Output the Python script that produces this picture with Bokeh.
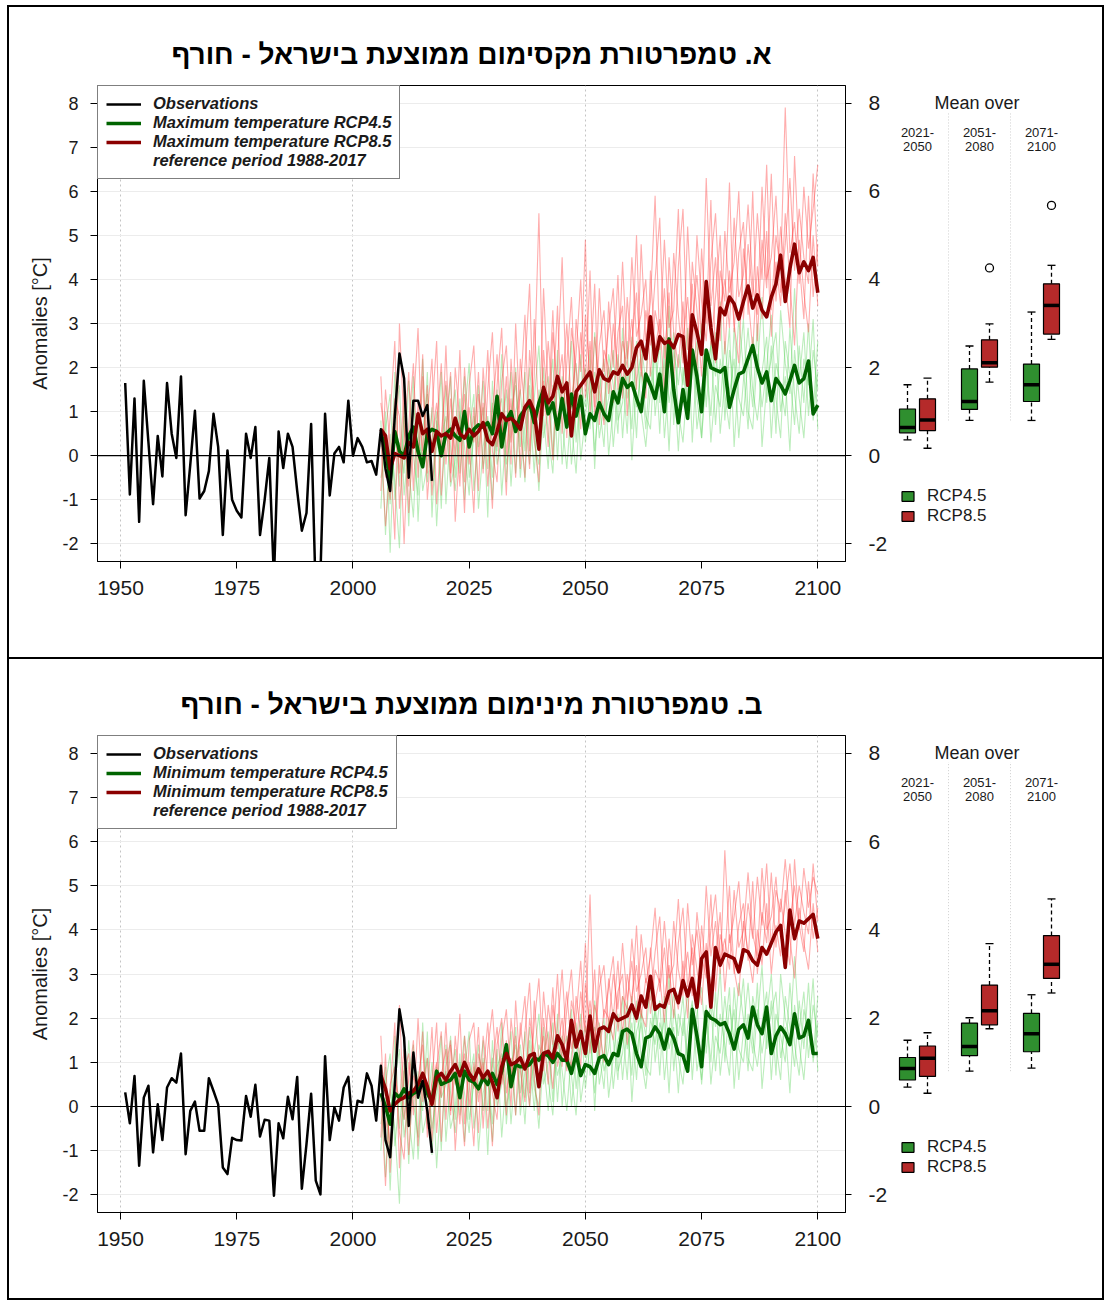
from bokeh.plotting import figure
from bokeh.models import Range1d, LinearAxis, FixedTicker, Span, Legend, LegendItem, Spacer
from bokeh.layouts import row, column
from bokeh.embed import file_html
from bokeh.resources import INLINE
from bokeh.core.properties import value

FONT = "Liberation Sans"

# ---------------- data ----------------
obs_years = list(range(1951, 2018))
proj_years = list(range(2006, 2101))

obs_tmax = [1.65, -0.88, 1.3, -1.5, 1.7, 0.3, -1.1, 0.45, -0.47, 1.65,
            0.5, -0.05, 1.8, -1.35, -0.2, 1.02, -0.97, -0.8, -0.35, 0.95,
            0.2, -1.8, 0.12, -1.0, -1.25, -1.4, 0.5, -0.05, 0.65, -1.8,
            -1.0, -0.05, -2.8, 0.55, -0.28, 0.5, 0.2, -0.8, -1.7, -1.3,
            0.72, -3.2, -2.7, 0.95, -0.9, 0.05, 0.2, -0.15, 1.25, 0.0,
            0.4, 0.2, -0.15, -0.12, -0.43, 0.6, -0.3, -0.8, 0.9, 2.32,
            1.75, -0.5, 1.25, 1.25, 0.9, 1.15, -0.57]

obs_tmin = [0.32, -0.38, 0.69, -1.34, 0.2, 0.47, -1.04, 0.05, -0.76, 0.43,
            0.64, 0.54, 1.2, -1.08, -0.1, 0.11, -0.55, -0.55, 0.64, 0.35,
            0.05, -1.38, -1.53, -0.71, -0.76, -0.77, 0.24, -0.23, 0.49, -0.68,
            -0.3, -0.32, -2.02, -0.38, -0.72, 0.22, -0.29, 0.67, -1.86, -0.85,
            0.29, -1.68, -1.99, 1.14, -0.76, -0.02, -0.32, 0.43, 0.67, -0.53,
            0.13, 0.09, 0.75, 0.47, -0.32, 0.92, -0.76, -1.15, 0.5, 2.2,
            1.56, -0.44, 1.22, 0.2, 0.58, -0.1, -1.05]

tmax_rcp85_mean = [0.6, 0.45, -0.3, 0.05, 0.0, -0.05, 0.3, 0.2, 0.95, 0.5,
                   0.6, 0.1, 0.55, 0.45, 0.5, 0.4, 0.85, 0.5, 0.4, 0.6,
                   0.45, 0.55, 0.75, 0.35, 0.25, 0.55, 0.95, 0.8, 0.85, 0.75,
                   0.6, 1.1, 1.25, 1.0, 0.15, 1.55, 1.2, 1.35, 1.8, 1.45,
                   1.65, 0.45, 1.45, 1.6, 1.75, 1.9, 1.45, 1.95, 1.75, 1.7,
                   1.9, 1.85, 2.05, 1.85, 2.0, 2.45, 2.6, 2.2, 3.15, 2.15,
                   2.7, 2.55, 2.6, 2.45, 2.75, 2.7, 1.6, 3.2, 2.8, 2.3,
                   3.95, 2.9, 2.2, 3.35, 3.2, 3.6, 3.45, 3.1, 3.5, 3.85,
                   3.35, 3.65, 3.3, 3.15, 3.6, 3.9, 4.55, 3.5, 4.25, 4.8,
                   4.15, 4.4, 4.2, 4.5, 3.7]

tmax_rcp45_mean = [0.5, 0.2, -0.6, 0.55, 0.1, 0.0, 0.45, 0.65, 0.1, -0.25,
                   0.5, 0.6, 0.55, 0.0, 0.5, 0.6, 0.45, 0.35, 1.0, 0.2,
                   0.6, 0.7, 0.65, 0.75, 0.5, 1.35, 0.2, 0.8, 1.0, 0.55,
                   0.9, 1.05, 1.2, 0.75, 1.2, 1.5, 0.95, 1.2, 0.6, 1.3,
                   0.65, 1.4, 0.9, 1.35, 0.5, 0.95, 0.8, 1.2, 0.95, 0.8,
                   1.45, 1.2, 1.75, 1.55, 1.65, 1.3, 1.0, 1.85, 1.6, 1.3,
                   1.85, 1.0, 2.65, 1.5, 0.75, 1.5, 0.85, 2.4, 1.8, 1.0,
                   2.4, 2.0, 1.95, 1.9, 2.0, 1.1, 1.5, 1.85, 1.9, 2.2,
                   2.5, 2.0, 1.65, 1.9, 1.25, 1.75, 1.6, 1.4, 1.7, 2.05,
                   1.65, 1.75, 2.15, 0.95, 1.15]

tmin_rcp85_mean = [0.7, 0.4, -0.1, 0.05, 0.15, 0.2, 0.3, 0.35, 0.5, 0.75,
                   0.45, 0.05, 0.65, 0.75, 0.6, 0.8, 0.95, 0.7, 1.0, 0.75,
                   0.6, 0.85, 0.65, 0.8, 0.55, 0.2, 0.9, 1.2, 0.95, 1.0,
                   1.1, 0.85, 1.15, 1.2, 0.45, 1.2, 1.25, 1.1, 1.6, 1.4,
                   1.05, 1.95, 1.35, 1.7, 1.2, 2.05, 1.25, 1.75, 1.8, 1.7,
                   2.1, 1.95, 2.0, 2.05, 2.3, 2.0, 2.5, 2.25, 2.95, 2.2,
                   2.3, 2.25, 2.6, 2.65, 2.35, 2.85, 2.5, 2.9, 2.25, 3.35,
                   3.5, 2.25, 3.6, 3.2, 3.45, 3.4, 3.35, 3.05, 3.55, 3.5,
                   3.3, 3.2, 3.6, 3.45, 3.7, 3.95, 4.1, 3.15, 4.45, 3.8,
                   4.2, 4.15, 4.25, 4.35, 3.8]

tmin_rcp45_mean = [0.3, 0.0, -0.4, 0.3, 0.2, 0.4, 0.2, 0.3, 0.35, 0.55,
                   0.3, 0.1, 0.8, 0.5, 0.55, 0.6, 0.75, 0.2, 0.8, 0.6,
                   0.55, 0.4, 0.65, 0.5, 0.75, 0.5, 0.8, 1.4, 0.45, 0.95,
                   0.9, 0.9, 0.95, 1.1, 1.05, 1.2, 1.15, 1.0, 1.2, 1.05,
                   1.05, 0.75, 1.2, 0.7, 0.95, 0.9, 0.75, 1.1, 1.15, 0.95,
                   1.2, 1.15, 1.7, 1.75, 1.65, 1.2, 0.9, 1.55, 1.6, 1.8,
                   1.65, 1.3, 1.75, 1.55, 1.2, 1.15, 0.8, 2.2, 1.6, 0.9,
                   2.15, 2.0, 1.95, 1.85, 1.9, 1.65, 1.3, 1.75, 1.85, 1.55,
                   2.25, 1.85, 1.65, 2.25, 1.2, 1.6, 1.8, 1.65, 1.4, 2.1,
                   1.55, 1.6, 1.95, 1.2, 1.2]

# individual model runs (estimated)
tmax_rcp85_m1 = [1.8, -0.5, 0.9, 2.6, -1.2, 0.4, 1.9, -0.8, 1.2, 0.1,
                 1.6, -0.9, 0.7, 2.1, -0.2, 1.3, 0.0, 2.4, -0.6, 1.1,
                 0.3, 1.9, -0.4, 1.5, 2.8, 0.2, 1.0, -0.9, 2.2, 0.6,
                 1.4, 3.2, 0.1, 1.8, 5.5, 0.9, 2.6, 1.2, 3.4, 0.5,
                 2.1, 3.6, 1.0, 2.8, 1.6, 4.2, 0.8, 2.5, 3.3, 1.4,
                 3.0, 1.9, 4.4, 2.2, 3.1, 1.5, 4.8, 2.6, 3.5, 5.9,
                 2.4, 3.8, 2.0, 4.6, 3.2, 2.1, 5.2, 3.0, 4.1, 2.7,
                 6.3, 3.4, 4.5, 2.6, 5.1, 3.7, 4.4, 6.0, 3.1, 4.8,
                 3.6, 5.5, 4.0, 6.6, 3.3, 5.0, 4.2, 7.9, 4.6, 5.3,
                 3.9, 6.1, 4.7, 5.6, 6.6]
tmax_rcp85_m2 = [-0.8, 1.5, 0.2, -1.9, 3.0, 0.6, -0.7, 1.1, 2.9, -0.3,
                 0.9, 2.2, -1.1, 0.5, 1.7, -0.6, 2.0, 0.8, -1.3, 1.6,
                 2.5, 0.0, 1.2, -0.7, 1.0, 2.3, 0.4, 1.8, -0.2, 3.0,
                 0.7, -0.5, 2.4, 1.1, 0.3, 3.8, 1.5, -0.1, 2.0, 4.5,
                 1.2, 0.6, 3.1, 1.9, 4.9, 0.9, 2.7, 1.6, 0.7, 3.5,
                 2.0, 4.1, 1.3, 3.6, 2.2, 5.0, 1.8, 3.3, 2.5, 4.0,
                 5.4, 2.2, 3.7, 1.6, 4.3, 5.6, 2.4, 3.9, 1.9, 4.7,
                 3.0, 5.8, 2.1, 4.2, 3.5, 6.2, 2.8, 4.6, 5.3, 3.2,
                 6.0, 2.6, 4.9, 3.8, 6.4, 3.5, 5.2, 4.0, 2.9, 6.8,
                 4.4, 3.1, 5.9, 3.6, 4.8]
tmax_rcp85_m3 = [0.4, -1.6, -0.2, 1.3, 0.9, -2.0, 0.7, 2.1, -0.5, 1.8,
                 -0.4, 1.0, 2.6, -0.9, 0.6, 1.9, -1.5, 0.3, 1.4, -0.2,
                 1.1, -0.8, 2.0, 0.5, -1.2, 1.6, 2.9, 0.0, 1.3, -0.5,
                 2.2, 1.0, -0.3, 3.1, 0.8, 1.7, 0.2, 2.8, 1.5, 2.3,
                 0.4, 2.9, 2.0, 0.6, 3.2, 1.8, 3.9, 0.7, 2.4, 2.0,
                 1.2, 2.8, 3.4, 0.9, 2.6, 3.7, 2.0, 1.3, 4.2, 2.4,
                 3.1, 1.4, 4.5, 2.8, 2.0, 3.5, 1.7, 4.4, 3.3, 1.8,
                 4.0, 2.5, 3.6, 5.0, 2.3, 4.2, 3.0, 2.1, 4.7, 3.6,
                 2.4, 4.3, 3.1, 5.1, 2.7, 4.4, 3.4, 5.5, 3.9, 2.5,
                 4.9, 3.7, 2.8, 5.0, 3.4]
tmax_rcp85_m4 = [1.2, 0.3, -1.0, 0.8, -0.4, 1.5, -1.3, 0.5, 0.0, 2.3,
                 -1.0, 0.4, 1.2, 0.0, 2.5, -0.4, 0.9, -0.7, 2.0, 0.3,
                 -1.3, 1.4, 0.6, 2.4, 0.1, -0.6, 1.7, 2.5, 0.3, 1.9,
                 -0.3, 2.0, 3.9, 0.4, -0.6, 2.4, 1.0, 3.3, 0.6, 1.4,
                 3.0, 1.1, 2.3, 4.0, 1.3, 2.6, 1.1, 3.8, 1.9, 2.9,
                 3.8, 1.5, 2.6, 2.0, 4.5, 2.7, 3.2, 4.0, 1.8, 3.3,
                 2.7, 4.9, 2.9, 3.3, 5.6, 2.6, 3.6, 2.2, 5.0, 3.5,
                 2.6, 4.4, 5.5, 3.3, 4.0, 2.9, 5.4, 3.6, 4.1, 5.7,
                 3.9, 3.2, 6.1, 4.0, 4.5, 5.9, 3.7, 4.8, 6.3, 4.2,
                 5.6, 4.5, 3.9, 6.4, 4.3]

tmax_rcp45_m1 = [-1.2, 1.0, -2.2, 0.8, 1.6, -0.9, 0.3, 1.8, -1.5, 0.6,
                 1.4, -0.6, 0.2, 1.9, -1.1, 0.7, 1.5, -0.4, 0.9, 2.1,
                 -0.8, 0.5, 1.7, -0.3, 1.2, 0.1, 2.3, -0.6, 1.0, 1.6,
                 0.2, 1.9, -0.2, 1.3, 2.5, 0.4, 1.1, 2.2, -0.1, 1.8,
                 0.9, 2.6, 0.3, 1.5, 2.0, 0.6, 2.8, 1.2, 0.2, 2.3,
                 1.6, 0.5, 2.9, 1.3, 2.1, 0.4, 2.5, 1.7, 3.2, 0.9,
                 2.0, 1.4, 3.4, 0.7, 2.3, 1.6, 2.9, 0.3, 2.2, 3.0,
                 1.1, 2.6, 1.8, 3.5, 0.8, 2.4, 1.5, 3.1, 2.0, 0.6,
                 2.7, 1.9, 3.6, 1.2, 2.5, 0.5, 3.3, 2.1, 1.4, 3.8,
                 1.7, 2.8, 0.9, 2.4, 1.5]
tmax_rcp45_m2 = [0.8, -1.8, 0.5, -0.6, -2.1, 1.2, -0.3, -1.4, 0.9, -0.8,
                 -0.2, 1.1, -1.6, 0.4, 0.9, -0.7, -0.1, 1.3, -1.0, 0.5,
                 1.4, -1.2, 0.2, 0.9, -0.5, 1.5, -0.9, 0.7, 1.9, -0.4,
                 1.0, -0.6, 1.6, 0.3, -0.2, 2.0, 0.5, -0.4, 1.7, 0.8,
                 -0.3, 1.2, 2.1, -0.1, 0.9, 1.8, 0.1, 1.4, 2.2, 0.0,
                 1.1, 2.3, 0.4, 1.9, 0.6, 2.6, 1.0, 0.2, 1.5, 2.4,
                 0.5, 2.7, 1.2, 1.9, 0.1, 2.0, 0.9, 2.4, 1.3, 0.4,
                 2.2, 0.9, 2.8, 0.5, 1.7, 2.9, 0.2, 1.9, 3.1, 1.0,
                 0.6, 2.3, 1.1, 2.0, 3.2, 1.3, 0.4, 2.6, 1.8, 0.7,
                 2.5, 1.2, 3.0, 0.8, 1.9]
tmax_rcp45_m3 = [0.2, 0.6, 1.4, -1.0, 0.3, -0.4, 1.7, 0.0, -0.9, 2.2,
                 -0.6, 0.3, 1.0, -1.2, 1.6, 0.2, -0.8, 0.6, 1.8, -0.5,
                 0.4, 1.6, -0.3, 0.8, -1.0, 0.9, 1.3, -0.2, 0.5, 2.0,
                 -0.5, 0.7, 1.2, -0.4, 1.5, 0.9, -0.3, 1.6, 0.6, 1.1,
                 1.7, -0.2, 1.0, 2.3, 0.3, 1.4, 1.9, 0.4, 1.2, 2.0,
                 0.2, 1.5, 1.8, 0.5, 2.7, 1.1, 1.9, 0.6, 2.0, 1.4,
                 2.6, 0.4, 1.7, 2.8, 1.0, 0.3, 1.8, 2.5, 0.6, 1.5,
                 2.4, 0.3, 1.6, 1.1, 2.6, 1.4, 2.2, 0.4, 1.7, 2.9,
                 1.5, 0.8, 1.9, 2.7, 0.4, 2.1, 1.6, 0.9, 2.9, 1.4,
                 0.5, 2.2, 1.6, 3.1, 0.6]
tmax_rcp45_m4 = [-0.5, 0.1, -1.1, 1.9, -0.7, 0.9, -1.6, 1.1, 0.5, -0.2,
                 1.9, -1.4, 0.8, 0.1, 0.4, 1.8, -0.5, 1.0, 0.2, -0.9,
                 0.9, 0.2, 1.1, -1.4, 1.7, -0.2, 0.4, 1.5, -0.7, 1.0,
                 1.5, 0.1, 2.0, 0.7, -0.8, 1.2, 1.8, 0.0, 2.4, -0.2,
                 1.3, 0.7, -0.4, 1.6, 1.1, 2.4, -0.3, 2.0, 0.8, 1.3,
                 2.4, 0.8, 1.2, 2.6, -0.1, 1.7, 2.3, 0.9, 0.6, 2.5,
                 1.2, 2.2, 0.1, 2.4, 1.6, 2.7, 0.8, 1.9, 2.6, 0.4,
                 1.8, 2.5, 0.7, 2.2, 1.4, 0.6, 2.9, 1.3, 0.9, 2.2,
                 1.1, 3.0, 0.2, 1.6, 2.2, 2.8, 1.0, 1.8, 0.1, 2.4,
                 1.3, 0.4, 2.1, 1.0, 2.6]

tmin_rcp85_m1 = [1.6, -0.6, 0.3, 1.9, -1.4, 0.8, 1.2, -0.2, 2.0, 0.1,
                 1.1, -0.8, 0.9, 1.7, -0.3, 1.4, 0.5, 2.1, -0.4, 1.0,
                 0.4, 1.8, -0.5, 1.3, 2.2, 0.6, 1.1, -0.2, 2.0, 1.0,
                 1.6, 2.5, 0.3, 1.9, 2.9, 0.8, 2.3, 1.4, 3.0, 0.9,
                 2.2, 3.1, 1.3, 2.6, 1.7, 4.8, 1.4, 2.7, 3.2, 1.8,
                 3.0, 2.2, 3.7, 2.4, 3.3, 1.9, 3.9, 2.8, 3.4, 4.5,
                 2.6, 3.6, 2.3, 4.2, 3.1, 2.5, 4.6, 3.2, 4.0, 2.9,
                 5.0, 3.4, 4.2, 3.0, 5.8, 3.7, 4.3, 5.1, 3.5, 4.6,
                 3.8, 5.2, 4.1, 5.5, 3.6, 4.9, 4.4, 5.6, 4.2, 5.0,
                 4.0, 5.4, 4.5, 5.2, 4.8]
tmin_rcp85_m2 = [-0.7, 1.2, -1.5, 0.4, 2.3, -0.3, 0.6, 1.5, -0.9, 0.8,
                 0.2, 1.8, -0.6, 0.7, 1.3, -0.2, 1.6, 0.4, -0.9, 1.5,
                 1.9, 0.1, 1.0, -0.5, 0.9, 1.8, 0.5, 1.5, 0.0, 2.4,
                 0.8, 0.1, 2.0, 1.2, 0.5, 2.6, 1.4, 0.4, 1.8, 3.1,
                 1.3, 0.9, 2.5, 1.7, 3.7, 1.2, 2.3, 1.8, 1.0, 2.9,
                 2.0, 3.3, 1.6, 3.0, 2.3, 4.1, 2.0, 2.9, 2.4, 3.5,
                 4.3, 2.4, 3.2, 2.0, 3.7, 4.5, 2.7, 3.6, 2.3, 4.1,
                 3.0, 4.8, 2.6, 3.9, 3.4, 5.0, 3.0, 4.1, 4.6, 3.3,
                 5.1, 3.0, 4.4, 3.7, 5.3, 3.6, 4.7, 3.9, 3.2, 5.6,
                 4.1, 3.5, 5.1, 3.8, 4.5]
tmin_rcp85_m3 = [0.3, -1.8, 0.5, 0.9, -0.6, -1.2, 1.0, 0.2, 0.6, 1.4,
                 -0.5, 0.6, 1.9, -0.8, 0.9, 1.5, -1.0, 0.6, 1.2, 0.0,
                 1.0, -0.6, 1.6, 0.7, -0.9, 1.4, 2.0, 0.3, 1.1, -0.2,
                 1.9, 0.9, 0.0, 2.4, 1.0, 1.6, 0.5, 2.3, 1.3, 2.0,
                 0.8, 2.4, 1.8, 0.9, 2.8, 1.7, 3.1, 1.1, 2.2, 2.0,
                 1.5, 2.6, 3.0, 1.4, 2.5, 3.2, 2.1, 1.8, 3.6, 2.4,
                 2.9, 1.9, 3.8, 2.7, 2.2, 3.3, 2.0, 3.9, 3.1, 2.3,
                 3.7, 2.7, 3.4, 4.4, 2.6, 3.9, 3.1, 2.5, 4.2, 3.5,
                 2.8, 4.0, 3.2, 4.6, 3.0, 4.1, 3.4, 4.9, 3.8, 2.9,
                 4.5, 3.7, 3.1, 4.6, 3.5]
tmin_rcp85_m4 = [1.0, 0.4, -0.9, 0.7, 0.1, 1.3, -1.1, 0.7, 0.3, 1.7,
                 -0.7, 0.5, 1.0, 0.2, 1.9, -0.1, 0.8, -0.4, 1.6, 0.5,
                 -0.9, 1.2, 0.7, 1.9, 0.3, -0.3, 1.5, 2.2, 0.6, 1.6,
                 0.0, 1.7, 2.8, 0.6, -0.2, 2.0, 1.1, 2.7, 0.9, 1.5,
                 2.6, 1.3, 2.0, 3.3, 1.5, 2.4, 1.3, 3.2, 2.0, 2.7,
                 3.4, 1.7, 2.5, 2.2, 3.8, 2.6, 3.0, 3.6, 2.1, 3.1,
                 2.8, 4.2, 2.9, 3.2, 4.7, 2.8, 3.5, 2.5, 4.4, 3.4,
                 2.9, 4.0, 4.8, 3.3, 3.8, 3.1, 4.9, 3.6, 4.0, 5.3,
                 3.9, 3.4, 5.4, 4.0, 4.3, 5.2, 3.8, 4.6, 5.5, 4.1,
                 5.0, 4.4, 3.9, 5.5, 4.2]

tmin_rcp45_m1 = [-1.0, 0.9, -1.9, 0.6, 1.3, -0.7, 0.2, 1.4, -1.2, 0.5,
                 1.1, -0.5, 0.3, 1.6, -0.8, 0.6, 1.3, -0.2, 0.8, 1.7,
                 -0.5, 0.5, 1.5, -0.1, 1.1, 0.2, 1.9, -0.4, 0.9, 1.4,
                 0.3, 1.7, 0.0, 1.2, 2.1, 0.5, 1.0, 1.9, 0.1, 1.6,
                 0.9, 2.2, 0.4, 1.4, 1.8, 0.7, 2.4, 1.2, 0.4, 2.0,
                 1.5, 0.6, 2.5, 1.3, 1.9, 0.6, 2.2, 1.6, 2.8, 1.0,
                 1.9, 1.4, 3.0, 0.8, 2.1, 1.6, 2.6, 0.6, 2.1, 2.7,
                 1.2, 2.4, 1.8, 3.1, 1.0, 2.3, 1.5, 2.8, 2.0, 0.8,
                 2.5, 1.9, 3.2, 1.3, 2.4, 0.7, 3.0, 2.0, 1.5, 3.4,
                 1.7, 2.6, 1.1, 2.3, 1.6]
tmin_rcp45_m2 = [0.7, -1.6, 0.4, -0.5, -2.2, 1.0, -0.2, -1.2, 0.8, -0.6,
                 -0.1, 1.0, -1.4, 0.4, 0.8, -0.5, 0.0, 1.2, -0.8, 0.5,
                 1.2, -1.0, 0.3, 0.8, -0.4, 1.3, -0.7, 0.7, 1.7, -0.2,
                 1.0, -0.4, 1.5, 0.4, 0.0, 1.8, 0.6, -0.2, 1.6, 0.8,
                 -0.1, 1.2, 1.9, 0.1, 0.9, 1.7, 0.3, 1.4, 2.0, 0.2,
                 1.1, 2.1, 0.6, 1.8, 0.7, 2.4, 1.1, 0.4, 1.5, 2.2,
                 0.7, 2.5, 1.3, 1.8, 0.3, 2.0, 1.0, 2.3, 1.4, 0.6,
                 2.1, 1.0, 2.6, 0.7, 1.7, 2.7, 0.4, 1.9, 2.9, 1.1,
                 0.8, 2.2, 1.2, 2.0, 3.0, 1.4, 0.6, 2.5, 1.8, 0.9,
                 2.4, 1.3, 2.8, 1.0, 1.9]
tmin_rcp45_m3 = [0.1, 0.5, 1.2, -0.9, 0.2, -0.3, 1.5, 0.1, -0.7, 1.9,
                 -0.4, 0.3, 0.9, -1.0, 1.4, 0.3, -0.6, 0.6, 1.6, -0.3,
                 0.5, 1.4, -0.1, 0.8, -0.8, 0.9, 1.2, 0.0, 0.6, 1.8,
                 -0.2, 0.8, 1.2, -0.1, 1.4, 1.0, -0.1, 1.5, 0.7, 1.2,
                 1.6, 0.0, 1.1, 2.1, 0.4, 1.4, 1.8, 0.5, 1.2, 1.9,
                 0.4, 1.5, 1.8, 0.6, 2.5, 1.2, 1.9, 0.7, 2.0, 1.4,
                 2.4, 0.6, 1.7, 2.6, 1.1, 0.5, 1.8, 2.4, 0.8, 1.5,
                 2.3, 0.5, 1.6, 1.2, 2.5, 1.4, 2.2, 0.6, 1.7, 2.8,
                 1.5, 0.9, 1.9, 2.6, 0.6, 2.1, 1.6, 1.0, 2.8, 1.4,
                 0.7, 2.2, 1.6, 2.9, 0.8]
tmin_rcp45_m4 = [-0.4, 0.2, -1.0, 1.6, -0.5, 0.8, -1.3, 1.0, 0.5, -0.1,
                 1.7, -1.1, 0.8, 0.2, 0.5, 1.6, -0.3, 1.0, 0.3, -0.6,
                 0.9, 0.3, 1.1, -1.1, 1.5, 0.0, 0.5, 1.4, -0.4, 1.0,
                 1.4, 0.2, 1.8, 0.7, -0.5, 1.2, 1.7, 0.1, 2.1, 0.0,
                 1.2, 0.7, -0.2, 1.5, 1.1, 2.2, -0.1, 1.9, 0.8, 1.3,
                 2.2, 0.8, 1.2, 2.4, 0.1, 1.7, 2.1, 0.9, 0.7, 2.3,
                 1.3, 2.0, 0.3, 2.2, 1.6, 2.5, 0.9, 1.8, 2.4, 0.5,
                 1.8, 2.3, 0.8, 2.1, 1.4, 0.7, 2.7, 1.3, 1.0, 2.1,
                 1.2, 2.8, 0.4, 1.6, 2.1, 2.6, 1.1, 1.8, 0.3, 2.3,
                 1.4, 0.6, 2.0, 1.1, 2.5]

# box plots: [lower whisker, Q1, median, Q3, upper whisker] for each period
periods = ["2021-2050", "2051-2080", "2071-2100"]
tmax_rcp45_box = [[0.36, 0.52, 0.64, 1.06, 1.61],
                  [0.80, 1.05, 1.23, 1.97, 2.49],
                  [0.80, 1.23, 1.61, 2.08, 3.26]]
tmax_rcp85_box = [[0.17, 0.57, 0.81, 1.29, 1.76],
                  [1.67, 2.01, 2.11, 2.63, 2.99],
                  [2.64, 2.76, 3.41, 3.90, 4.32]]
tmax_rcp85_outliers = [(1, 4.26), (2, 5.68)]
tmin_rcp45_box = [[0.44, 0.60, 0.86, 1.11, 1.50],
                  [0.80, 1.15, 1.36, 1.89, 2.01],
                  [0.87, 1.24, 1.65, 2.11, 2.53]]
tmin_rcp85_box = [[0.30, 0.68, 1.09, 1.37, 1.67],
                  [1.76, 1.85, 2.17, 2.75, 3.69],
                  [2.57, 2.90, 3.22, 3.87, 4.70]]
tmin_rcp85_outliers = []

x_ticks = [1950, 1975, 2000, 2025, 2050, 2075, 2100]
y_ticks_left = list(range(-2, 9))
y_ticks_right = [-2, 0, 2, 4, 6, 8]

for s in [tmax_rcp85_mean, tmax_rcp45_mean, tmin_rcp85_mean, tmin_rcp45_mean,
          tmax_rcp85_m1, tmax_rcp85_m2, tmax_rcp85_m3, tmax_rcp85_m4,
          tmax_rcp45_m1, tmax_rcp45_m2, tmax_rcp45_m3, tmax_rcp45_m4,
          tmin_rcp85_m1, tmin_rcp85_m2, tmin_rcp85_m3, tmin_rcp85_m4,
          tmin_rcp45_m1, tmin_rcp45_m2, tmin_rcp45_m3, tmin_rcp45_m4]:
    assert len(s) == len(proj_years), len(s)
assert len(obs_tmax) == len(obs_years) and len(obs_tmin) == len(obs_years)

# ---------------- styling / layout constants ----------------
GREEN_MEAN = "#006400"
RED_MEAN = "#8b0000"
GREEN_RUN = "#5fd35f"
RED_RUN = "#ff4a4a"
BOX_GREEN = "#2f8f2f"
BOX_RED = "#b52a2a"
TXT = "#1a1a1a"

MAIN_W = 881
BOX_W = 212
MB_LEFT, MB_RIGHT = 88, 43

xspan = obs_years[0], proj_years[-1]
xpad = 0.04 * (xspan[1] - xspan[0])
X0, X1 = xspan[0] - xpad, xspan[1] + xpad
ypad = 0.04 * (y_ticks_left[-1] - y_ticks_left[0])
Y0, Y1 = y_ticks_left[0] - ypad, y_ticks_left[-1] + ypad


def hyphen_labels(ticks):
    return {t: str(t) for t in ticks if t < 0}


def style_axis(ax, size, tick_out=7, standoff=10):
    ax.axis_line_color = "black"
    ax.axis_line_width = 1
    ax.major_tick_line_color = "black"
    ax.minor_tick_line_color = None
    ax.major_tick_in = 0
    ax.major_tick_out = tick_out
    ax.major_label_standoff = standoff
    ax.major_label_text_font = FONT
    ax.major_label_text_font_size = size
    ax.major_label_text_color = TXT


def main_panel(title, obs, g_mean, r_mean, g_runs, r_runs, var_label, height, top, bottom):
    p = figure(width=MAIN_W, height=height, x_range=Range1d(X0, X1), y_range=Range1d(Y0, Y1),
               output_backend="svg", toolbar_location=None, tools="",
               min_border_left=MB_LEFT, min_border_right=MB_RIGHT,
               min_border_top=top, min_border_bottom=bottom, title=title)
    p.title.align = "center"
    p.title.text_font = FONT
    p.title.text_font_size = "28px"
    p.title.text_font_style = "bold"
    p.title.text_color = "black"
    p.title.standoff = 31

    p.background_fill_color = "white"
    p.border_fill_color = "white"
    p.outline_line_color = "black"
    p.outline_line_width = 1

    left = p.yaxis[0]
    left.ticker = FixedTicker(ticks=y_ticks_left)
    left.major_label_overrides = hyphen_labels(y_ticks_left)
    style_axis(left, "18px", 7, 12)
    left.axis_label = "Anomalies [°C]"
    left.axis_label_text_font = FONT
    left.axis_label_text_font_size = "20px"
    left.axis_label_text_font_style = "normal"
    left.axis_label_text_color = TXT
    left.axis_label_standoff = 8

    bottom_ax = p.xaxis[0]
    bottom_ax.ticker = FixedTicker(ticks=x_ticks)
    style_axis(bottom_ax, "21px", 7, 12)

    right = LinearAxis(ticker=FixedTicker(ticks=y_ticks_right))
    style_axis(right, "21px", 6, 17)
    right.major_label_overrides = hyphen_labels(y_ticks_right)
    p.add_layout(right, "right")

    p.xgrid.ticker = FixedTicker(ticks=[x_ticks[0], x_ticks[2], x_ticks[4], x_ticks[6]])
    p.xgrid.grid_line_color = "#c4c4c4"
    p.xgrid.grid_line_dash = "2 3"
    p.ygrid.ticker = FixedTicker(ticks=y_ticks_left)
    p.ygrid.grid_line_color = "#ececec"

    for run in g_runs:
        p.line(proj_years, run, line_color=GREEN_RUN, line_alpha=0.42, line_width=1.1)
    for run in r_runs:
        p.line(proj_years, run, line_color=RED_RUN, line_alpha=0.45, line_width=1.1)

    p.add_layout(Span(location=0, dimension="width", line_color="black", line_width=1.2))

    g_r = p.line(proj_years, g_mean, line_color=GREEN_MEAN, line_width=3.6, line_join="round")
    r_r = p.line(proj_years, r_mean, line_color=RED_MEAN, line_width=3.6, line_join="round")
    o_r = p.line(obs_years, obs, line_color="black", line_width=2.5, line_join="round")
    dummy = p.line([], [], line_alpha=0)

    items = [LegendItem(label="Observations", renderers=[o_r]),
             LegendItem(label=f"{var_label} temperature RCP4.5", renderers=[g_r]),
             LegendItem(label=f"{var_label} temperature RCP8.5", renderers=[r_r]),
             LegendItem(label="reference period 1988-2017", renderers=[dummy])]
    leg = Legend(items=items, location="top_left", margin=0, padding=8, spacing=0,
                 border_line_color="black", border_line_width=1,
                 background_fill_color="white", background_fill_alpha=1,
                 label_text_font=FONT, label_text_font_size="16.5px",
                 label_text_font_style="bold italic", label_text_color=TXT,
                 glyph_width=35, glyph_height=16, label_height=16, label_standoff=12)
    p.add_layout(leg)
    return p


def box_panel(g_box, r_box, r_out, height, top, bottom):
    # group spacing 62px; group 0 centred 27px from the frame's left edge
    unit = 62.0
    x0 = -27.0 / unit
    b = figure(width=BOX_W, height=height, x_range=Range1d(x0, x0 + BOX_W / unit),
               y_range=Range1d(Y0, Y1), output_backend="svg", toolbar_location=None, tools="",
               x_axis_type=None, y_axis_type=None,
               min_border_left=0, min_border_right=0, min_border_top=top, min_border_bottom=bottom)
    b.grid.visible = False
    b.outline_line_color = None
    b.background_fill_color = "white"
    b.border_fill_color = "white"

    off = 10.0 / unit
    bw = 16.0 / unit
    cap = 8.0 / unit
    gx = list(range(len(periods)))

    sep_x = [g + 0.5 for g in gx[:-1]]
    b.segment(x0=sep_x, y0=[0.8] * len(sep_x), x1=sep_x, y1=[7.8] * len(sep_x),
              line_color="#cfcfcf", line_dash="1 2", line_width=1)

    renderers = []
    for stats, sign, col in [(g_box, -1, BOX_GREEN), (r_box, 1, BOX_RED)]:
        xs = [g + sign * off for g in gx]
        lo = [s[0] for s in stats]
        q1 = [s[1] for s in stats]
        md = [s[2] for s in stats]
        q3 = [s[3] for s in stats]
        hi = [s[4] for s in stats]
        b.segment(x0=xs, y0=q3, x1=xs, y1=hi, line_color="black", line_dash="4 3", line_width=1.3)
        b.segment(x0=xs, y0=lo, x1=xs, y1=q1, line_color="black", line_dash="4 3", line_width=1.3)
        b.segment(x0=[x - cap / 2 for x in xs], y0=hi, x1=[x + cap / 2 for x in xs], y1=hi,
                  line_color="black", line_width=1.3)
        b.segment(x0=[x - cap / 2 for x in xs], y0=lo, x1=[x + cap / 2 for x in xs], y1=lo,
                  line_color="black", line_width=1.3)
        r = b.vbar(x=xs, width=bw, bottom=q1, top=q3, fill_color=col, line_color="black",
                   line_width=1.2)
        b.segment(x0=[x - bw / 2 for x in xs], y0=md, x1=[x + bw / 2 for x in xs], y1=md,
                  line_color="black", line_width=3.5)
        renderers.append(r)

    if r_out:
        b.scatter(x=[gx[i] + off for i, _ in r_out], y=[v for _, v in r_out], marker="circle",
                  size=8, fill_color=None, line_color="black", line_width=1.3)

    b.text(x=[gx[1]], y=[y_ticks_left[-1]], text=["Mean  over"], text_font=value(FONT),
           text_font_size="18px", text_align="center", text_baseline="middle", text_color=TXT)
    b.text(x=gx, y=[7.33] * len(gx), text=[p.split("-")[0] + "-" for p in periods],
           text_font=value(FONT), text_font_size="13px", text_align="center",
           text_baseline="middle", text_color=TXT)
    b.text(x=gx, y=[7.02] * len(gx), text=[p.split("-")[1] for p in periods],
           text_font=value(FONT), text_font_size="13px", text_align="center",
           text_baseline="middle", text_color=TXT)

    leg = Legend(items=[LegendItem(label="RCP4.5", renderers=[renderers[0]]),
                        LegendItem(label="RCP8.5", renderers=[renderers[1]])],
                 location=(10, 35), margin=0, padding=0, spacing=0,
                 border_line_color=None, background_fill_alpha=0,
                 label_text_font=FONT, label_text_font_size="17px", label_text_color=TXT,
                 glyph_width=15, glyph_height=12, label_height=16, label_standoff=12)
    b.add_layout(leg)
    return b


H1 = 650
H2 = 639
m1 = main_panel("א. טמפרטורת מקסימום ממוצעת בישראל - חורף", obs_tmax, tmax_rcp45_mean,
                tmax_rcp85_mean, [tmax_rcp45_m1, tmax_rcp45_m2, tmax_rcp45_m3, tmax_rcp45_m4],
                [tmax_rcp85_m1, tmax_rcp85_m2, tmax_rcp85_m3, tmax_rcp85_m4], "Maximum",
                H1, 78, 96)
b1 = box_panel(tmax_rcp45_box, tmax_rcp85_box, tmax_rcp85_outliers, H1, 78, 96)
m2 = main_panel("ב. טמפרטורת מינימום ממוצעת בישראל - חורף", obs_tmin, tmin_rcp45_mean,
                tmin_rcp85_mean, [tmin_rcp45_m1, tmin_rcp45_m2, tmin_rcp45_m3, tmin_rcp45_m4],
                [tmin_rcp85_m1, tmin_rcp85_m2, tmin_rcp85_m3, tmin_rcp85_m4], "Minimum",
                H2, 76, 86)
b2 = box_panel(tmin_rcp45_box, tmin_rcp85_box, tmin_rcp85_outliers, H2, 76, 86)

W_FRAME = 2 + MAIN_W + BOX_W + 2


def hline():
    return Spacer(width=W_FRAME, height=2, styles={"background-color": "black"})


def vline(h):
    return Spacer(width=2, height=h, styles={"background-color": "black"})


framed = column(hline(),
                row(vline(H1), m1, b1, vline(H1)),
                hline(),
                row(vline(H2), m2, b2, vline(H2)),
                hline())

layout = column(Spacer(width=W_FRAME + 7, height=5),
                row(Spacer(width=7, height=5 + 2 * 3 + H1 + H2), framed))

open("out.html", "w").write(file_html(layout, INLINE))
